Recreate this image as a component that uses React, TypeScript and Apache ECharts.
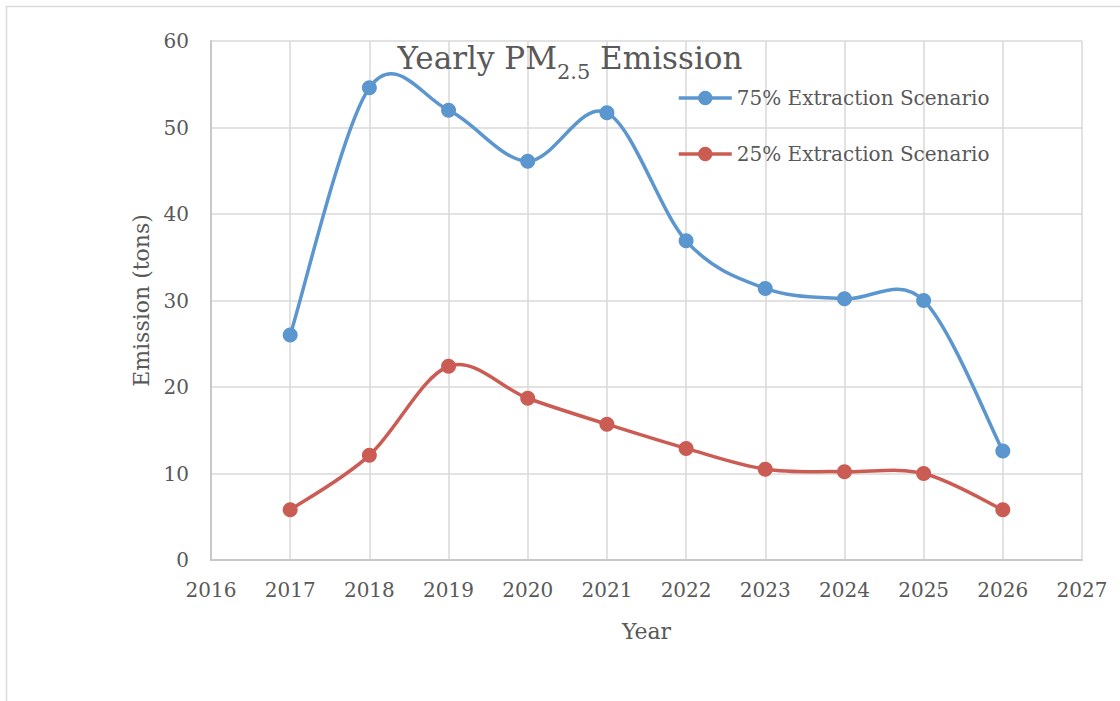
import React, { useEffect, useRef } from "react";
import * as echarts from "echarts";

const years = [2017, 2018, 2019, 2020, 2021, 2022, 2023, 2024, 2025, 2026];
const scenario75 = [26.0, 54.6, 52.0, 46.1, 51.7, 36.9, 31.4, 30.2, 30.0, 12.6];
const scenario25 = [5.8, 12.1, 22.4, 18.7, 15.7, 12.9, 10.5, 10.2, 10.0, 5.8];
const seriesNames = ["75% Extraction Scenario", "25% Extraction Scenario"];
const xTicks = { min: 2016, max: 2027, interval: 1 };
const yTicks = { min: 0, max: 60, interval: 10 };

const FONT = "DejaVu Serif";
const TEXT = "#595959";
const GRID = "#d9d9d9";
const BLUE = "#5b96cf";
const RED = "#cb5c54";

// Smooth curve (Catmull-Rom style, like spreadsheet "smoothed line") via custom series
function curveSeries(name: string, vals: number[], color: string) {
  return {
    name: name + " (curve)",
    type: "custom",
    z: 2,
    silent: true,
    data: years.map((y, i) => [y, vals[i]]),
    renderItem: (params: any, api: any) => {
      const i = params.dataIndex;
      const n = years.length;
      if (i >= n - 1) return null;
      const P = (k: number) => {
        const kk = Math.max(0, Math.min(n - 1, k));
        return api.coord([years[kk], vals[kk]]);
      };
      const p0 = P(i - 1), p1 = P(i), p2 = P(i + 1), p3 = P(i + 2);
      const t = 1 / 6;
      const c1 = [p1[0] + (p2[0] - p0[0]) * t, p1[1] + (p2[1] - p0[1]) * t];
      const c2 = [p2[0] - (p3[0] - p1[0]) * t, p2[1] - (p3[1] - p1[1]) * t];
      return {
        type: "bezierCurve",
        shape: { x1: p1[0], y1: p1[1], x2: p2[0], y2: p2[1], cpx1: c1[0], cpy1: c1[1], cpx2: c2[0], cpy2: c2[1] },
        style: { stroke: color, lineWidth: 3.5, fill: "none", lineCap: "round" },
      };
    },
  };
}

function markerSeries(name: string, vals: number[], color: string) {
  return {
    name,
    type: "line",
    z: 3,
    data: years.map((y, i) => [y, vals[i]]),
    symbol: "circle",
    symbolSize: 15,
    itemStyle: { color },
    lineStyle: { color, width: 3.5, opacity: 0 },
  };
}

export default function App() {
  const ref = useRef<HTMLDivElement>(null);
  useEffect(() => {
    if (!ref.current) return;
    const chart = echarts.init(ref.current, undefined, { renderer: "svg" });
    chart.setOption({
      animation: false,
      backgroundColor: "#ffffff",
      textStyle: { fontFamily: FONT, color: TEXT },
      title: {
        text: "{a|Yearly PM}{s|2.5}{a| Emission}",
        left: 565,
        top: 28,
        textAlign: "center",
        textStyle: {
          fontWeight: "normal",
          rich: {
            a: { fontFamily: FONT, fontSize: 31, fontWeight: "normal", color: TEXT, lineHeight: 50 },
            s: { fontFamily: FONT, fontSize: 21, fontWeight: "normal", color: TEXT, lineHeight: 21, padding: [27, 0, 0, 0] },
          },
        },
      },
      graphic: [
        {
          type: "rect",
          shape: { x: 6.5, y: 6.5, width: 1300, height: 1300 },
          style: { fill: "none", stroke: GRID, lineWidth: 1.5 },
          silent: true,
        },
      ],
      legend: {
        orient: "vertical",
        left: 672,
        top: 83,
        itemWidth: 53,
        itemHeight: 18,
        itemGap: 36,
        lineStyle: { width: 3.5, opacity: 1 },
        textStyle: { fontFamily: FONT, fontSize: 20, color: TEXT },
        data: seriesNames,
      },
      grid: { left: 211, right: 38, top: 41, bottom: 141 },
      xAxis: {
        type: "value",
        min: xTicks.min,
        max: xTicks.max,
        interval: xTicks.interval,
        name: "Year",
        nameLocation: "middle",
        nameGap: 60,
        nameTextStyle: { fontFamily: FONT, fontSize: 22, color: TEXT },
        axisLine: { show: true, onZero: false, lineStyle: { color: "#c8c8c8", width: 2 } },
        axisTick: { show: false },
        axisLabel: { fontFamily: FONT, fontSize: 20, color: TEXT, margin: 20, formatter: (v: number) => String(v) },
        splitLine: { show: true, lineStyle: { color: GRID, width: 1.5 } },
      },
      yAxis: {
        type: "value",
        min: yTicks.min,
        max: yTicks.max,
        interval: yTicks.interval,
        name: "Emission (tons)",
        nameLocation: "middle",
        nameGap: 58,
        nameTextStyle: { fontFamily: FONT, fontSize: 22, color: TEXT },
        axisLine: { show: true, lineStyle: { color: "#c8c8c8", width: 2 } },
        axisTick: { show: false },
        axisLabel: { fontFamily: FONT, fontSize: 20, color: TEXT, margin: 22 },
        splitLine: { show: true, lineStyle: { color: GRID, width: 1.5 } },
      },
      series: [
        curveSeries(seriesNames[0], scenario75, BLUE),
        curveSeries(seriesNames[1], scenario25, RED),
        markerSeries(seriesNames[0], scenario75, BLUE),
        markerSeries(seriesNames[1], scenario25, RED),
      ],
    });
    return () => chart.dispose();
  }, []);
  return (
    <div
      ref={ref}
      style={{ position: "fixed", left: 0, top: 0, width: 1120, height: 701 }}
    />
  );
}
